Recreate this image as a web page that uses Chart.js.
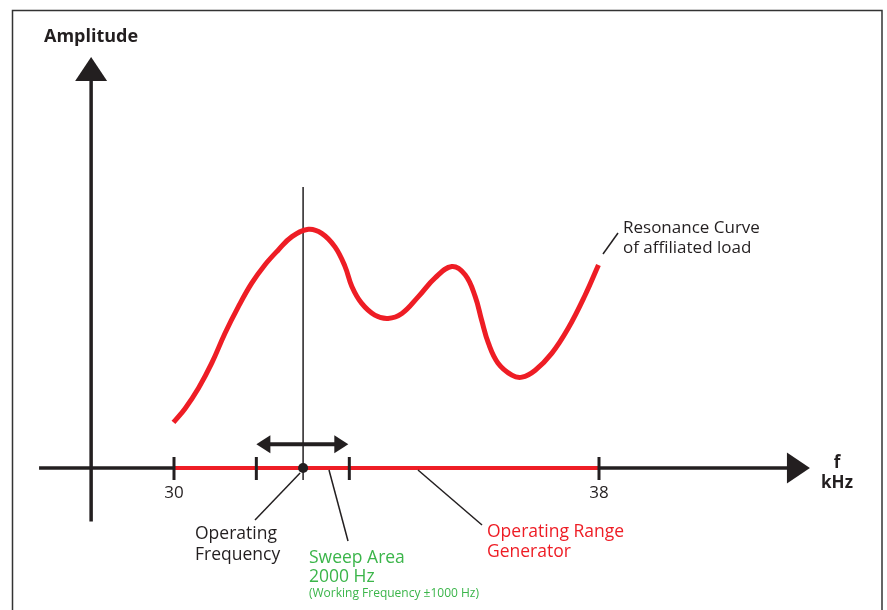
<!DOCTYPE html>
<html>
<head>
<meta charset="utf-8">
<script src="https://cdn.jsdelivr.net/npm/chart.js@4"></script>
<style>
  html, body { margin: 0; padding: 0; background: #fff; }
  canvas { display: block; }
</style>
</head>
<body>
<canvas id="c" width="887" height="610"></canvas>
<script>
// ---- data (frequency in kHz, amplitude in arbitrary units) ----
const curveFreq = [29.99, 30.21, 30.46, 30.71, 30.96, 31.21, 31.46, 31.71, 31.96, 32.22, 32.53, 32.78, 33.03, 33.22, 33.35, 33.53, 33.78, 34.03, 34.29, 34.60, 34.91, 35.23, 35.48, 35.67, 35.79, 35.92, 36.10, 36.36, 36.55, 36.80, 37.11, 37.42, 37.74, 37.99];
const curveAmp  = [11.1, 14.5, 19.4, 25.5, 32.8, 39.2, 44.9, 49.4, 53.0, 56.3, 58.1, 57.1, 53.8, 49.0, 44.1, 40.1, 37.2, 36.4, 37.6, 41.7, 46.2, 49.0, 47.0, 41.7, 36.0, 30.3, 25.5, 22.6, 22.1, 23.8, 27.9, 34.0, 42.1, 49.4];
const rangeFreq = [30, 38];            // operating range of generator
const sweepFreq = [31.55, 33.3];       // sweep area
const operatingFreq = 32.43;
const tickValues = [30, 38];
const tickLabels = ['30', '38'];

const RED = '#ee1d25', GREEN = '#3bb54a', INK = '#231f20';
const FONT = '"Open Sans", "Noto Sans", sans-serif';

function line(ctx, x1, y1, x2, y2, w, c) {
  ctx.save(); ctx.strokeStyle = c; ctx.lineWidth = w; ctx.lineCap = 'butt';
  ctx.beginPath(); ctx.moveTo(x1, y1); ctx.lineTo(x2, y2); ctx.stroke(); ctx.restore();
}
function tri(ctx, pts, c) {
  ctx.save(); ctx.fillStyle = c; ctx.beginPath();
  ctx.moveTo(pts[0][0], pts[0][1]); ctx.lineTo(pts[1][0], pts[1][1]); ctx.lineTo(pts[2][0], pts[2][1]);
  ctx.closePath(); ctx.fill(); ctx.restore();
}
function text(ctx, s, x, y, font, color, align) {
  ctx.save(); ctx.font = font; ctx.fillStyle = color; ctx.textAlign = align || 'left';
  ctx.textBaseline = 'alphabetic'; ctx.fillText(s, x, y); ctx.restore();
}

const diagram = {
  id: 'diagram',
  beforeDatasetsDraw(chart) {
    const ctx = chart.ctx, X = chart.scales.x, Y = chart.scales.y;
    const x0 = X.getPixelForValue(28.44), y0 = Y.getPixelForValue(0);
    // frame
    ctx.save(); ctx.strokeStyle = '#333'; ctx.lineWidth = 1.5;
    ctx.beginPath(); ctx.moveTo(12.5, 610); ctx.lineTo(12.5, 10.5); ctx.lineTo(882, 10.5); ctx.lineTo(882, 610); ctx.stroke(); ctx.restore();
    // y axis
    line(ctx, x0, Y.getPixelForValue(-13), x0, Y.getPixelForValue(100) + 22, 3.5, INK);
    tri(ctx, [[x0, Y.getPixelForValue(100)], [x0 - 16, Y.getPixelForValue(100) + 24], [x0 + 16, Y.getPixelForValue(100) + 24]], INK);
    // x axis
    const xTip = X.getPixelForValue(41.97);
    line(ctx, X.getPixelForValue(27.46), y0, xTip - 22, y0, 3.5, INK);
    tri(ctx, [[xTip, y0], [xTip - 23, y0 - 15.5], [xTip - 23, y0 + 15.5]], INK);
    // operating frequency vertical line
    const xo = X.getPixelForValue(operatingFreq);
    line(ctx, xo, Y.getPixelForValue(68.4), xo, Y.getPixelForValue(-2.9), 1.5, INK);
  },
  afterDatasetsDraw(chart) {
    const ctx = chart.ctx, X = chart.scales.x, Y = chart.scales.y;
    const y0 = Y.getPixelForValue(0);
    // tick marks
    [...tickValues, ...sweepFreq].forEach(v => {
      const px = X.getPixelForValue(v);
      line(ctx, px, y0 - 11, px, y0 + 12, 3, INK);
    });
    tickValues.forEach((v, i) => text(ctx, tickLabels[i], X.getPixelForValue(v), y0 + 30, '17px ' + FONT, INK, 'center'));
    // operating frequency dot
    const xo = X.getPixelForValue(operatingFreq);
    ctx.save(); ctx.fillStyle = INK; ctx.beginPath(); ctx.arc(xo, y0, 5, 0, Math.PI * 2); ctx.fill(); ctx.restore();
    // double arrow above sweep area
    const xa = X.getPixelForValue(sweepFreq[0]), xb = X.getPixelForValue(sweepFreq[1]) - 1, ya = Y.getPixelForValue(5.8);
    line(ctx, xa + 12, ya, xb - 12, ya, 4, INK);
    tri(ctx, [[xa, ya], [xa + 14, ya - 9], [xa + 14, ya + 9]], INK);
    tri(ctx, [[xb, ya], [xb - 14, ya - 9], [xb - 14, ya + 9]], INK);
    // leader lines
    line(ctx, xo - 3, y0 + 5, 255, 520, 1.5, INK);
    line(ctx, 329, y0 + 2, 348, 541, 1.5, INK);
    line(ctx, 418, y0 + 2, 482, 525, 1.5, INK);
    line(ctx, 603, 254, 618, 233, 1.5, INK);
    // labels
    text(ctx, 'Amplitude', 44, 42, 'bold 18px ' + FONT, INK);
    text(ctx, 'f', 837, 468, 'bold 17px ' + FONT, INK, 'center');
    text(ctx, 'kHz', 837, 488, 'bold 17px ' + FONT, INK, 'center');
    text(ctx, 'Operating', 195, 539, '17.5px ' + FONT, INK);
    text(ctx, 'Frequency', 195, 560, '17.5px ' + FONT, INK);
    text(ctx, 'Sweep Area', 309, 563, '17.5px ' + FONT, GREEN);
    text(ctx, '2000 Hz', 309, 582, '17.5px ' + FONT, GREEN);
    text(ctx, '(Working Frequency \u00b11000 Hz)', 309, 597, '12px ' + FONT, GREEN);
    text(ctx, 'Operating Range', 487, 537, '17.5px ' + FONT, RED);
    text(ctx, 'Generator', 487, 557, '17.5px ' + FONT, RED);
    text(ctx, 'Resonance Curve', 623, 233, '17px ' + FONT, INK);
    text(ctx, 'of affiliated load', 623, 253, '17px ' + FONT, INK);
  }
};

new Chart(document.getElementById('c'), {
  type: 'line',
  data: {
    datasets: [
      {
        label: 'Operating Range Generator',
        data: rangeFreq.map(f => ({ x: f, y: 0 })),
        borderColor: RED, borderWidth: 4, pointRadius: 0, borderCapStyle: 'butt'
      },
      {
        label: 'Sweep Area',
        data: sweepFreq.map(f => ({ x: f, y: 0 })),
        borderColor: GREEN, borderWidth: 4, pointRadius: 0, borderCapStyle: 'butt'
      },
      {
        label: 'Resonance Curve of affiliated load',
        data: curveFreq.map((f, i) => ({ x: f, y: curveAmp[i] })),
        borderColor: RED, borderWidth: 5, pointRadius: 0,
        tension: 0.4, borderCapStyle: 'butt', borderJoinStyle: 'round'
      }
    ]
  },
  options: {
    responsive: false,
    animation: false,
    devicePixelRatio: 1,
    layout: { padding: { left: 67.75, right: 75.5, top: 57, bottom: 88.57 } },
    plugins: { legend: { display: false }, tooltip: { enabled: false } },
    scales: {
      x: { type: 'linear', min: 28, max: 42, display: false },
      y: { type: 'linear', min: -13, max: 100, display: false }
    }
  },
  plugins: [diagram]
});
</script>
</body>
</html>
